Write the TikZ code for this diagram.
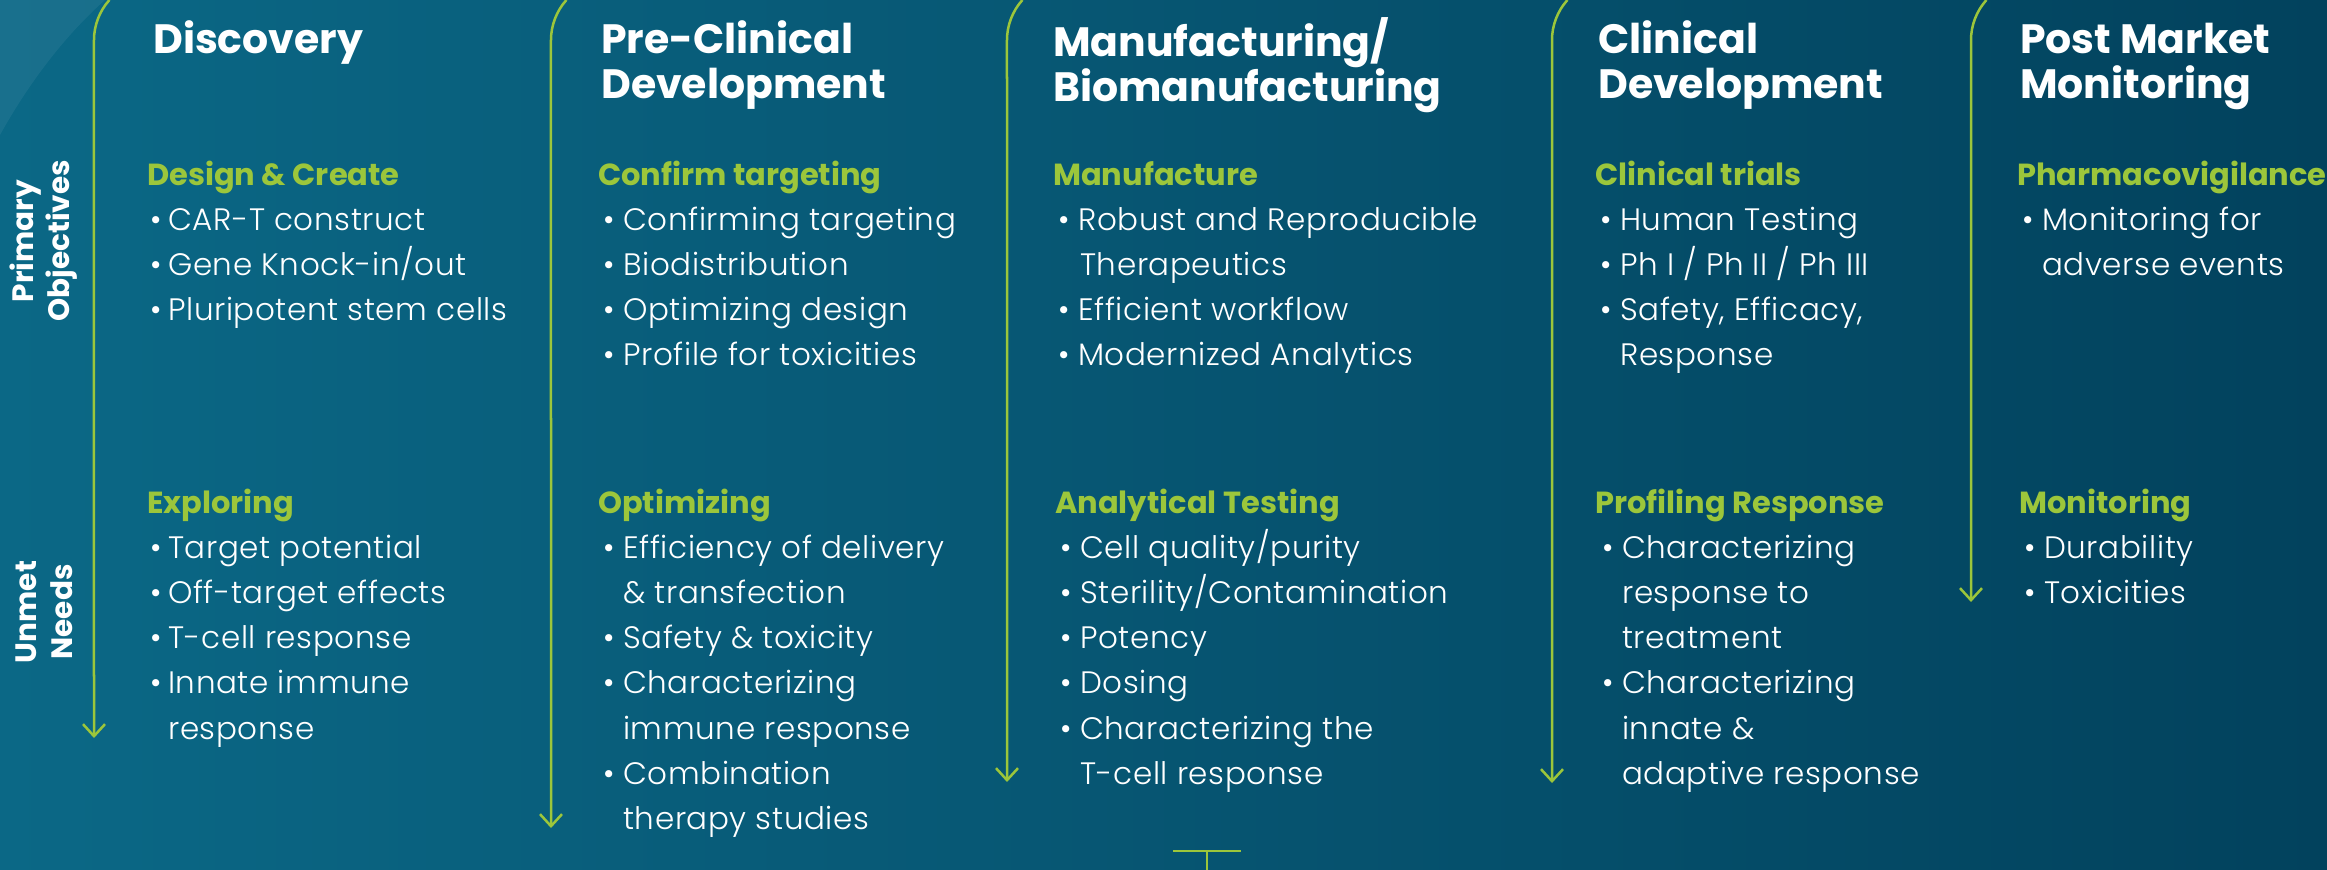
\documentclass[tikz,border=0pt]{standalone}
\usepackage{fontspec}
\usetikzlibrary{arrows.meta}
\setmainfont{Poppins Light}[LetterSpace=2]
\newfontfamily\headfont{Poppins}
\definecolor{limegreen}{HTML}{9CC63B}
\definecolor{deepteal}{HTML}{0B6886}
\definecolor{midteal}{HTML}{05566F}
\definecolor{navy}{HTML}{02425D}
\newcommand{\itm}[1][20pt]{\makebox[#1][l]{\textbullet}}
\newcommand{\cnt}[1][20pt]{\hspace*{#1}}
\setlength{\lineskiplimit}{-30pt}

\begin{document}
\begin{tikzpicture}[x=1pt,y=1pt]

        \useasboundingbox (0,0) rectangle (2327,-870);
        \shade[left color=deepteal, middle color=midteal, right color=navy] (0,0) rectangle (2327,-870);
        \fill[white, opacity=.06] (0,0) -- (105,0) .. controls (60,-40) and (25,-90) .. (0,-135) -- cycle;

        \begin{scope}[every node/.style={anchor=north west, inner sep=0, align=left, text=white,
            font=\headfont\bfseries\fontsize{41}{45}\selectfont}]
          \node (h1) at (153,-17)  {\rule{0pt}{36pt}Discovery};
          \node (h2) at (601,-17)  {\rule{0pt}{36pt}Pre-Clinical\\Development};
          \node (h3) at (1053,-17) {\rule{0pt}{36pt}Manufacturing/\\Biomanufacturing};
          \node (h4) at (1598,-17) {\rule{0pt}{36pt}Clinical\\Development};
          \node (h5) at (2020,-17) {\rule{0pt}{36pt}Post Market\\Monitoring};
        \end{scope}

        \begin{scope}[every node/.style={anchor=base west, inner sep=0, text=limegreen,
            font=\headfont\bfseries\fontsize{30.5}{35}\selectfont}]
          \node (g1) at (147,-185)  {Design \& Create};
          \node (g2) at (598,-185)  {Confirm targeting};
          \node (g3) at (1053,-185) {Manufacture};
          \node (g4) at (1595,-185) {Clinical trials};
          \node (g5) at (2017,-185) {Pharmacovigilance};
          \node (u1) at (147,-513)  {Exploring};
          \node (u2) at (598,-513)  {Optimizing};
          \node (u3) at (1055,-513) {Analytical Testing};
          \node (u4) at (1595,-513) {Profiling Response};
          \node (u5) at (2019,-513) {Monitoring};
        \end{scope}

        \begin{scope}[every node/.style={anchor=north west, inner sep=0, align=left, text=white,
            font=\fontsize{31}{45.2}\selectfont}]
          \node (o1) at (150,-198.4)  {\strut\itm[18pt]CAR-T construct\\\itm[18pt]Gene Knock-in/out\\\itm[18pt]Pluripotent stem cells};
          \node (o2) at (603,-198.4)  {\strut\itm Confirming targeting\\\itm Biodistribution\\\itm Optimizing design\\\itm Profile for toxicities};
          \node (o3) at (1058,-198.4) {\strut\itm Robust and Reproducible\\\cnt[22pt]Therapeutics\\\itm Efficient workflow\\\itm Modernized Analytics};
          \node (o4) at (1600,-198.4) {\strut\itm Human Testing\\\itm Ph I / Ph II / Ph III\\\itm Safety, Efficacy,\\\cnt Response};
          \node (o5) at (2022,-198.4) {\strut\itm Monitoring for\\\cnt adverse events};
          \node (n1) at (150,-526.4)  {\strut\itm[18pt]Target potential\\\itm[18pt]Off-target effects\\\itm[18pt]T-cell response\\\itm[18pt]Innate immune\\\cnt[18pt]response};
          \node (n2) at (603,-526.4)  {\strut\itm Efficiency of delivery\\\cnt\&{} transfection\\\itm Safety \&{} toxicity\\\itm Characterizing\\\cnt immune response\\\itm Combination\\\cnt therapy studies};
          \node (n3) at (1060,-526.4) {\strut\itm Cell quality/purity\\\itm Sterility/Contamination\\\itm Potency\\\itm Dosing\\\itm Characterizing the\\\cnt T-cell response};
          \node (n4) at (1602,-526.4) {\strut\itm Characterizing\\\cnt response to\\\cnt treatment\\\itm Characterizing\\\cnt innate \&\\\cnt adaptive response};
          \node (n5) at (2024,-526.4) {\strut\itm Durability\\\itm Toxicities};
        \end{scope}

        \begin{scope}[every node/.style={rotate=90, align=center, inner sep=0, text=white,
            font=\headfont\bfseries\fontsize{29.5}{36}\selectfont}]
          \node (r1) at (44,-241) {Primary\\Objectives};
          \node (r2) at (44,-612) {Unmet\\Needs};
        \end{scope}

        \begin{scope}[draw=limegreen, line width=2.5pt, -{Straight Barb[length=12pt,width=22pt]}]
          \coordinate (s1) at (109.4,0);  \coordinate (e1) at (94,-738);
          \coordinate (s2) at (566.4,0);  \coordinate (e2) at (551,-828);
          \coordinate (s3) at (1022.4,0); \coordinate (e3) at (1007,-782);
          \coordinate (s4) at (1567.4,0); \coordinate (e4) at (1552,-783);
          \coordinate (s5) at (1986.4,0); \coordinate (e5) at (1971,-602);
          \draw (s1) arc[start angle=138, end angle=180, radius=60] -- (e1);
          \draw (s2) arc[start angle=138, end angle=180, radius=60] -- (e2);
          \draw (s3) arc[start angle=138, end angle=180, radius=60] -- (e3);
          \draw (s4) arc[start angle=138, end angle=180, radius=60] -- (e4);
          \draw (s5) arc[start angle=138, end angle=180, radius=60] -- (e5);
        \end{scope}

        \begin{scope}[draw=limegreen, line width=2.5pt]
          \coordinate (t1) at (1173,-851); \coordinate (t2) at (1241,-851);
          \coordinate (t3) at (1207,-851); \coordinate (t4) at (1207,-870);
          \draw (t1) -- (t2);
          \draw (t3) -- (t4);
        \end{scope}

      \end{tikzpicture}
\end{document}
